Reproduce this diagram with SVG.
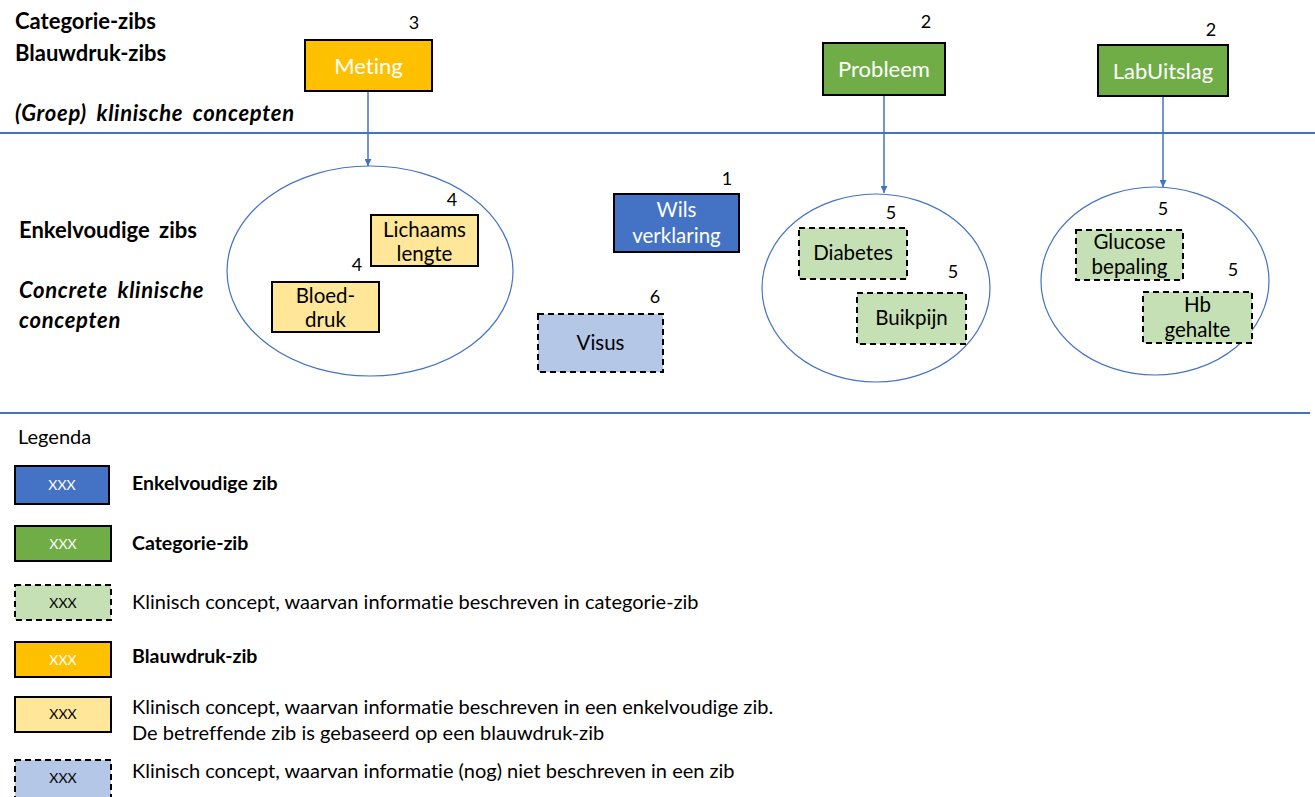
<svg xmlns="http://www.w3.org/2000/svg" width="1315" height="797" viewBox="0 0 1315 797">
  <style>
    text { font-family: Lato, "Open Sans", "Liberation Sans", sans-serif; fill: #000; font-variant-ligatures: none; }
    .hdr { font-size: 22px; font-weight: bold; }
    .hdri { font-size: 22px; font-weight: bold; font-style: italic; word-spacing: 4px; letter-spacing: 0.7px; }
    .hdrs { font-size: 22px; font-weight: bold; word-spacing: 4px; }
    .num { font-size: 18px; text-anchor: middle; }
    .lbl { font-size: 20.5px; text-anchor: middle; }
    .lblw { font-size: 22px; text-anchor: middle; fill: #fff; }
    .lblw2 { font-size: 20.5px; text-anchor: middle; fill: #fff; }
    .leg { font-size: 20px; }
    .legb { font-size: 19.5px; font-weight: bold; }
    .xxx { font-size: 14px; text-anchor: middle; }
    .xxxw { font-size: 14px; text-anchor: middle; fill: #fff; }
    .solid { stroke: #000; stroke-width: 2; }
    .dash { stroke: #000; stroke-width: 2; stroke-dasharray: 6 4; }
    .blue { fill: #4472C4; }
    .green { fill: #70AD47; }
    .lgreen { fill: #C5E0B4; }
    .orange { fill: #FFC000; }
    .yellow { fill: #FFE699; }
    .lblue { fill: #B4C7E7; }
    .group { fill: none; stroke: #4472C4; stroke-width: 1.2; }
    .sep { stroke: #4472C4; stroke-width: 2; }
    .conn { stroke: #4472C4; stroke-width: 1.5; fill: none; marker-end: url(#arrow); }
  </style>
  <defs>
    <marker id="arrow" viewBox="0 0 10 10" refX="10" refY="5" markerWidth="7" markerHeight="7" markerUnits="userSpaceOnUse" orient="auto">
      <path d="M0,0 L10,5 L0,10 z" fill="#4472C4"/>
    </marker>
  </defs>

  <rect width="1315" height="797" fill="#fff"/>

  <!-- section headings -->
  <g id="headings">
    <text class="hdr" x="15" y="29">Categorie-zibs</text>
    <text class="hdr" x="15" y="61">Blauwdruk-zibs</text>
    <text class="hdri" x="15" y="121">(Groep) klinische concepten</text>
    <text class="hdrs" x="19" y="238">Enkelvoudige zibs</text>
    <text class="hdri" x="19" y="298">Concrete klinische</text>
    <text class="hdri" x="19" y="328">concepten</text>
  </g>

  <!-- separators -->
  <g id="separators">
    <line class="sep" x1="0" y1="133" x2="1315" y2="133"/>
    <line class="sep" x1="0" y1="413" x2="1310" y2="413"/>
  </g>

  <!-- connectors -->
  <g id="connectors">
    <line class="conn" x1="368" y1="92" x2="368" y2="166"/>
    <line class="conn" x1="884" y1="96" x2="884" y2="193"/>
    <line class="conn" x1="1163" y1="97" x2="1163" y2="187"/>
  </g>

  <!-- group circles -->
  <g id="group-meting"><ellipse class="group" cx="370" cy="271" rx="143" ry="105"/></g>
  <g id="group-probleem"><ellipse class="group" cx="876" cy="288" rx="114" ry="94"/></g>
  <g id="group-labuitslag"><ellipse class="group" cx="1155" cy="281" rx="114" ry="94"/></g>

  <!-- top-level zibs -->
  <g id="meting">
    <rect class="orange solid" x="305" y="40" width="127" height="51"/>
    <text class="lblw" x="368.5" y="74">Meting</text>
    <text class="num" x="414" y="29">3</text>
  </g>
  <g id="probleem">
    <rect class="green solid" x="823" y="43" width="122" height="52"/>
    <text class="lblw" x="884" y="77">Probleem</text>
    <text class="num" x="926" y="28">2</text>
  </g>
  <g id="labuitslag">
    <rect class="green solid" x="1098" y="45" width="130" height="51"/>
    <text class="lblw" x="1163" y="79">LabUitslag</text>
    <text class="num" x="1211" y="36">2</text>
  </g>

  <!-- concepts -->
  <g id="lichaamslengte">
    <rect class="yellow solid" x="371" y="215" width="107" height="51"/>
    <text class="lbl" x="424.5" y="237">Lichaams</text>
    <text class="lbl" x="424.5" y="261">lengte</text>
    <text class="num" x="452" y="206">4</text>
  </g>
  <g id="bloeddruk">
    <rect class="yellow solid" x="272" y="282" width="107" height="50"/>
    <text class="lbl" x="325.5" y="303">Bloed-</text>
    <text class="lbl" x="325.5" y="327">druk</text>
    <text class="num" x="357" y="271">4</text>
  </g>
  <g id="wilsverklaring">
    <rect class="blue solid" x="614" y="194" width="125" height="58"/>
    <text class="lblw2" x="676.5" y="217">Wils</text>
    <text class="lblw2" x="676.5" y="243">verklaring</text>
    <text class="num" x="727" y="185">1</text>
  </g>
  <g id="visus">
    <rect class="lblue dash" x="538" y="314" width="125" height="58"/>
    <text class="lbl" x="600.5" y="350">Visus</text>
    <text class="num" x="655" y="303">6</text>
  </g>
  <g id="diabetes">
    <rect class="lgreen dash" x="799" y="228" width="108" height="51"/>
    <text class="lbl" x="853" y="260">Diabetes</text>
    <text class="num" x="891" y="219">5</text>
  </g>
  <g id="buikpijn">
    <rect class="lgreen dash" x="857" y="293" width="109" height="51"/>
    <text class="lbl" x="911.5" y="325">Buikpijn</text>
    <text class="num" x="953" y="278">5</text>
  </g>
  <g id="glucosebepaling">
    <rect class="lgreen dash" x="1076" y="230" width="107" height="50"/>
    <text class="lbl" x="1129.5" y="249">Glucose</text>
    <text class="lbl" x="1129.5" y="274">bepaling</text>
    <text class="num" x="1163" y="215">5</text>
  </g>
  <g id="hbgehalte">
    <rect class="lgreen dash" x="1143" y="292" width="109" height="51"/>
    <text class="lbl" x="1197.5" y="312">Hb</text>
    <text class="lbl" x="1197.5" y="337">gehalte</text>
    <text class="num" x="1233" y="276">5</text>
  </g>

  <!-- legend -->
  <g id="legend">
    <text class="leg" x="18" y="444">Legenda</text>

    <rect class="blue solid" x="15" y="466" width="94" height="38"/>
    <text class="xxxw" x="62" y="490">XXX</text>
    <text class="legb" x="132" y="490">Enkelvoudige zib</text>

    <rect class="green solid" x="15" y="526" width="96" height="35"/>
    <text class="xxxw" x="63" y="549">XXX</text>
    <text class="legb" x="132" y="550">Categorie-zib</text>

    <rect class="lgreen dash" x="15" y="585" width="96" height="35"/>
    <text class="xxx" x="63" y="608">XXX</text>
    <text class="leg" x="132" y="609">Klinisch concept, waarvan informatie beschreven in categorie-zib</text>

    <rect class="orange solid" x="15" y="642" width="96" height="35"/>
    <text class="xxxw" x="63" y="665">XXX</text>
    <text class="legb" x="132" y="663">Blauwdruk-zib</text>

    <rect class="yellow solid" x="15" y="697" width="96" height="35"/>
    <text class="xxx" x="63" y="719">XXX</text>
    <text class="leg" x="132" y="714">Klinisch concept, waarvan informatie beschreven in een enkelvoudige zib.</text>
    <text class="leg" x="132" y="740">De betreffende zib is gebaseerd op een blauwdruk-zib</text>

    <rect class="lblue dash" x="15" y="760" width="96" height="40"/>
    <text class="xxx" x="63" y="783">XXX</text>
    <text class="leg" x="132" y="778">Klinisch concept, waarvan informatie (nog) niet beschreven in een zib</text>
  </g>
</svg>
